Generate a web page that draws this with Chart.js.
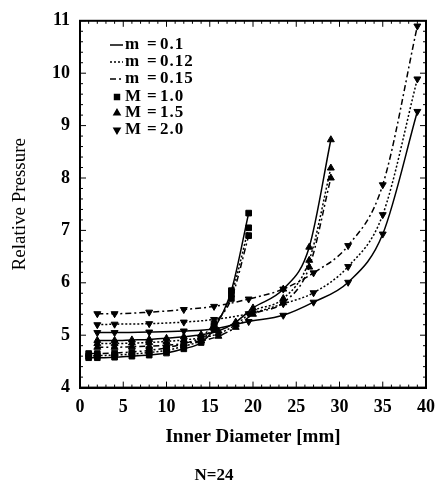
<!DOCTYPE html>
<html>
<head>
<meta charset="utf-8">
<script src="https://cdn.jsdelivr.net/npm/chart.js@4.4.0/dist/chart.umd.min.js"></script>
<style>
  html, body { margin: 0; padding: 0; background: #fff; }
  #wrap { width: 444px; height: 486px; }
</style>
</head>
<body>
<div id="wrap"><canvas id="chart" width="444" height="486"></canvas></div>
<script>
// M = 1.0 curves (end near 20 mm)
const shortX = [1, 2, 4, 6, 8, 10, 12, 14, 15.5, 17.5, 19.5];
const shortSolid = [4.57, 4.57, 4.58, 4.6, 4.62, 4.66, 4.74, 4.86, 5.12, 5.85, 7.33];
const shortDotted = [4.6, 4.61, 4.62, 4.64, 4.67, 4.71, 4.79, 4.91, 5.17, 5.78, 7.05];
const shortDashDot = [4.65, 4.65, 4.66, 4.68, 4.71, 4.76, 4.84, 4.96, 5.22, 5.7, 6.9];

// M = 1.5 curves (end near 29 mm)
const midX = [2, 4, 6, 8, 10, 12, 14, 16, 18, 20, 23.5, 26.5, 29];
const midSolid = [4.9, 4.9, 4.91, 4.92, 4.94, 4.97, 5.01, 5.08, 5.25, 5.52, 5.88, 6.68, 8.73];
const midDotted = [4.84, 4.84, 4.85, 4.86, 4.88, 4.91, 4.95, 5.03, 5.2, 5.46, 5.7, 6.43, 8.19];
const midDashDot = [4.77, 4.77, 4.78, 4.79, 4.81, 4.84, 4.89, 4.98, 5.15, 5.4, 5.62, 6.3, 8.0];

// M = 2.0 curves (end near 39 mm)
const longX = [2, 4, 8, 12, 15.5, 19.5, 23.5, 27, 31, 35, 39];
const longSolid = [5.05, 5.05, 5.06, 5.08, 5.12, 5.26, 5.38, 5.63, 6.01, 6.93, 9.27];
const longDotted = [5.2, 5.21, 5.22, 5.25, 5.3, 5.41, 5.6, 5.81, 6.31, 7.3, 9.89];
const longDashDot = [5.41, 5.41, 5.44, 5.49, 5.55, 5.69, 5.88, 6.19, 6.71, 7.87, 10.9];

const xTicks = [0, 5, 10, 15, 20, 25, 30, 35, 40];
const yTicks = [4, 5, 6, 7, 8, 9, 10, 11];

const mLabels = ['0.1', '0.12', '0.15'];
const bigMLabels = ['1.0', '1.5', '2.0'];

const dashes = [[], [2, 2], [6, 3, 2, 3]];
const markers = [
  { style: 'rect', rotation: 0, radius: 4 },
  { style: 'triangle', rotation: 0, radius: 4 },
  { style: 'triangle', rotation: 180, radius: 4 }
];

function pairs(xs, ys) {
  return xs.map((x, i) => ({ x, y: ys[i] }));
}

function makeSet(xs, ys, dashIdx, markerIdx) {
  const mk = markers[markerIdx];
  return {
    data: pairs(xs, ys),
    borderColor: '#000',
    backgroundColor: '#000',
    borderWidth: 1.5,
    borderDash: dashes[dashIdx],
    pointStyle: mk.style,
    rotation: mk.rotation,
    pointRadius: mk.radius,
    pointBorderWidth: 1,
    cubicInterpolationMode: 'monotone',
    fill: false
  };
}

const datasets = [
  makeSet(shortX, shortSolid, 0, 0),
  makeSet(shortX, shortDotted, 1, 0),
  makeSet(shortX, shortDashDot, 2, 0),
  makeSet(midX, midSolid, 0, 1),
  makeSet(midX, midDotted, 1, 1),
  makeSet(midX, midDashDot, 2, 1),
  makeSet(longX, longSolid, 0, 2),
  makeSet(longX, longDotted, 1, 2),
  makeSet(longX, longDashDot, 2, 2)
];

const serif = '"Liberation Serif", "DejaVu Serif", serif';

const frameTicks = {
  id: 'frameTicks',
  afterDraw(chart) {
    const { ctx, chartArea: a, scales: { x, y } } = chart;
    ctx.save();
    ctx.strokeStyle = '#000';
    ctx.lineWidth = 1;
    ctx.beginPath();
    for (let v = 0; v <= 40; v++) {
      const px = x.getPixelForValue(v);
      const len = v % 5 === 0 ? 6 : 3;
      ctx.moveTo(px, a.bottom); ctx.lineTo(px, a.bottom - len);
      ctx.moveTo(px, a.top); ctx.lineTo(px, a.top + len);
    }
    for (let i = 0; i <= 35; i++) {
      const py = y.getPixelForValue(4 + i * 0.2);
      const len = i % 5 === 0 ? 6 : 3;
      ctx.moveTo(a.left, py); ctx.lineTo(a.left + len, py);
      ctx.moveTo(a.right, py); ctx.lineTo(a.right - len, py);
    }
    ctx.stroke();
    ctx.lineWidth = 2;
    ctx.strokeRect(a.left, a.top, a.right - a.left, a.bottom - a.top);
    ctx.restore();
  }
};

const insideLegend = {
  id: 'insideLegend',
  afterDraw(chart) {
    const { ctx, chartArea: a } = chart;
    ctx.save();
    ctx.fillStyle = '#000';
    ctx.strokeStyle = '#000';
    ctx.font = 'bold 17px ' + serif;
    ctx.textBaseline = 'middle';
    try { ctx.letterSpacing = '1px'; } catch (e) {}
    const x0 = a.left + 30;
    const rows = [45, 62, 79, 97, 113, 130];
    mLabels.forEach((lab, i) => {
      const yy = rows[i];
      ctx.lineWidth = 1.5;
      ctx.setLineDash(dashes[i]);
      ctx.beginPath();
      ctx.moveTo(x0, yy); ctx.lineTo(x0 + 13, yy);
      ctx.stroke();
      ctx.setLineDash([]);
      ctx.textAlign = 'left';
      ctx.fillText('m', x0 + 15, yy);
      ctx.fillText('=', x0 + 37, yy);
      ctx.fillText(lab, x0 + 50, yy);
    });
    bigMLabels.forEach((lab, i) => {
      const yy = rows[i + 3];
      const mk = markers[i];
      Chart.helpers.drawPoint(ctx, { pointStyle: mk.style, rotation: mk.rotation, radius: 3.5, borderWidth: 1 }, x0 + 7, yy);
      ctx.fill();
      ctx.textAlign = 'left';
      ctx.fillText('M', x0 + 15, yy);
      ctx.fillText('=', x0 + 37, yy);
      ctx.fillText(lab, x0 + 50, yy);
    });
    ctx.restore();
  }
};

new Chart(document.getElementById('chart'), {
  type: 'line',
  data: { datasets },
  options: {
    responsive: false,
    animation: false,
    layout: { padding: { left: 0, right: 16, top: 10, bottom: 0 } },
    plugins: {
      legend: { display: false },
      tooltip: { enabled: false },
      title: {
        display: true,
        position: 'bottom',
        text: 'N=24',
        color: '#000',
        font: { family: serif, size: 17, weight: 'bold' },
        padding: { top: 0, bottom: 0 }
      }
    },
    scales: {
      x: {
        type: 'linear',
        min: 0,
        max: 40,
        afterFit(s) { s.height = 78; },
        afterBuildTicks(s) { s.ticks = xTicks.map(v => ({ value: v })); },
        grid: { display: false, drawTicks: false },
        border: { display: true, color: '#000', width: 2 },
        ticks: { color: '#000', padding: 9, maxRotation: 0, font: { family: serif, size: 18, weight: 'bold' } },
        title: {
          display: true,
          text: 'Inner Diameter [mm]',
          color: '#000',
          font: { family: serif, size: 19, weight: 'bold' },
          padding: { top: 0, bottom: 17 }
        }
      },
      y: {
        type: 'linear',
        min: 4,
        max: 11,
        afterFit(s) { s.width = 80; },
        afterBuildTicks(s) { s.ticks = yTicks.map(v => ({ value: v })); },
        grid: { display: false, drawTicks: false },
        border: { display: true, color: '#000', width: 2 },
        ticks: { color: '#000', padding: 10, font: { family: serif, size: 18, weight: 'bold' } },
        title: {
          display: true,
          text: 'Relative Pressure',
          color: '#000',
          font: { family: serif, size: 19 },
          padding: { top: 9, bottom: 0 }
        }
      }
    }
  },
  plugins: [frameTicks, insideLegend]
});
</script>
</body>
</html>
